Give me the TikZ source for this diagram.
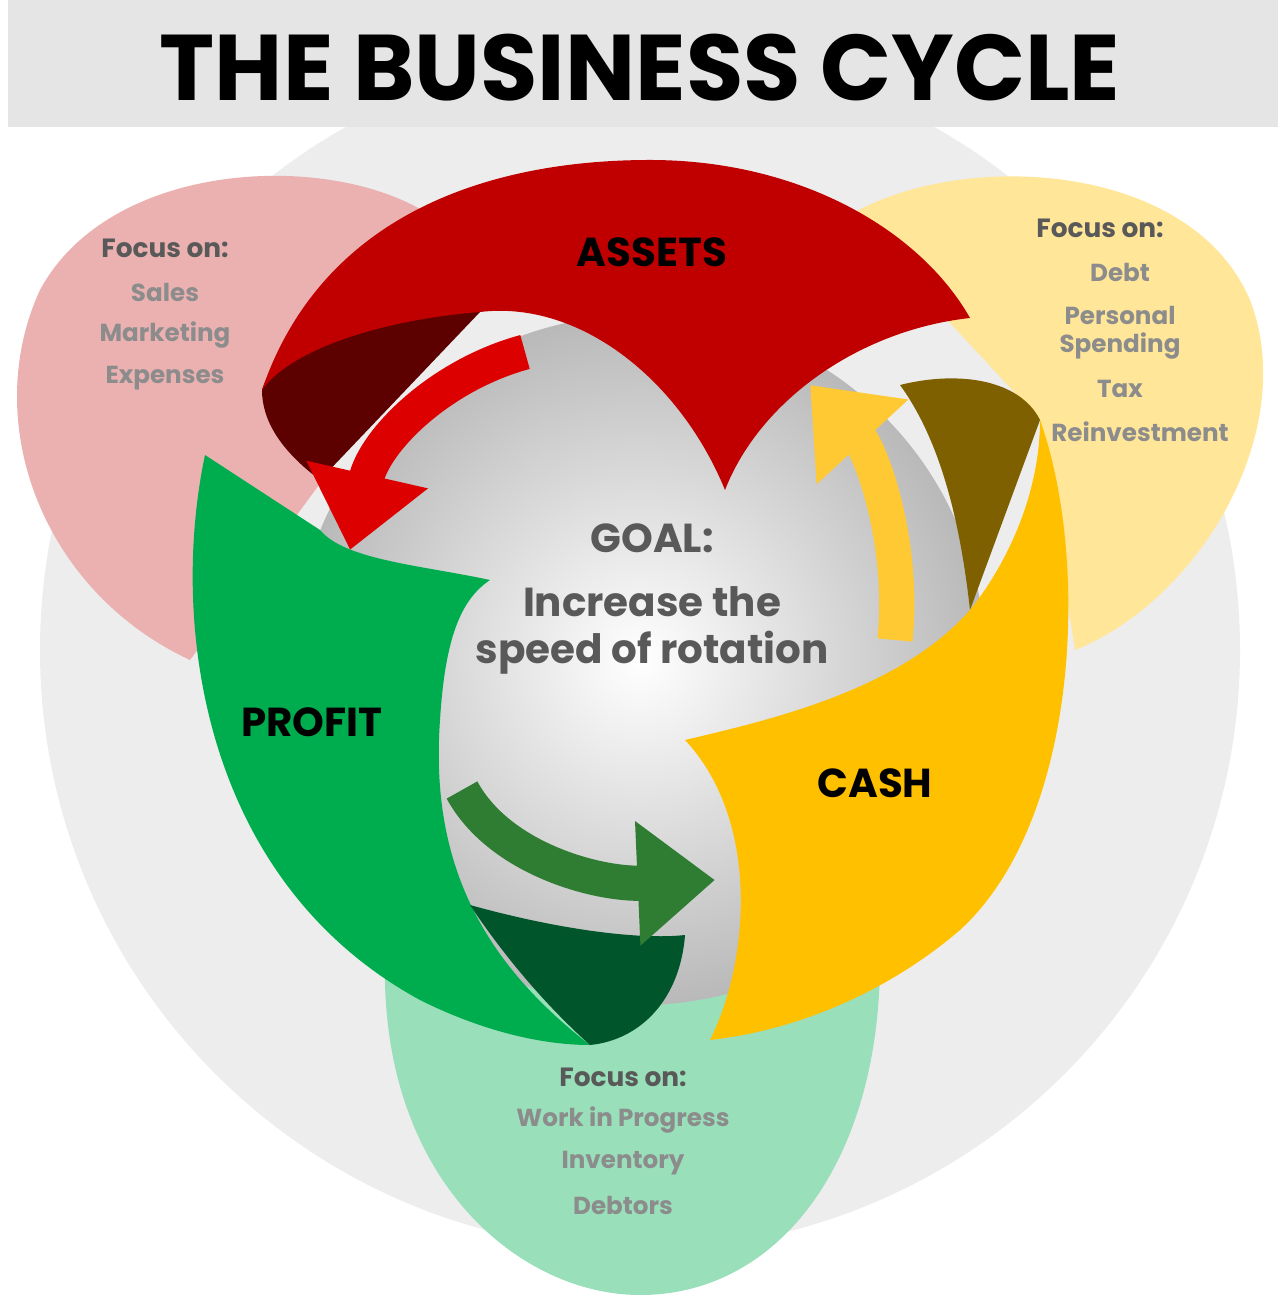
\documentclass[tikz,border=0pt]{standalone}
\usepackage{fontspec}
\setmainfont{Poppins}
\usetikzlibrary{arrows.meta}
\definecolor{bandred}{HTML}{C00000}
\definecolor{foldred}{HTML}{5C0000}
\definecolor{bandgreen}{HTML}{00AD4E}
\definecolor{foldgreen}{HTML}{00552A}
\definecolor{bandyellow}{HTML}{FFC000}
\definecolor{foldyellow}{HTML}{7F6000}
\definecolor{petalpink}{HTML}{EBB1B0}
\definecolor{petalyellow}{HTML}{FFE699}
\definecolor{petalgreen}{HTML}{99DFBA}
\definecolor{headtext}{HTML}{595959}
\definecolor{itemtext}{HTML}{8C8C8C}
\definecolor{turnred}{HTML}{DD0000}
\definecolor{turnyellow}{HTML}{FFC933}
\definecolor{turngreen}{HTML}{2E7D32}
\tikzset{
  focushead/.style={font=\fontsize{7.5}{9}\selectfont\bfseries, text=headtext},
  focusitem/.style={font=\fontsize{7}{9}\selectfont\bfseries, text=itemtext},
  bandlabel/.style={font=\fontsize{11.5}{13}\selectfont\bfseries, text=black},
  goaltext/.style={font=\fontsize{11.5}{14}\selectfont\bfseries, text=headtext},
  turn/.style={line width=10pt, -{Triangle[length=22pt, width=34pt]}}
}
\begin{document}
\begin{tikzpicture}[x=0.01cm,y=-0.01cm]
  \useasboundingbox (0,0) rectangle (1278,1295);
  % backdrop
  \fill[gray!14] (640,650) circle (600);
  \fill[gray!20] (8,0) rectangle (1278,127);
  \node (title) at (640,68) {\resizebox{9.6cm}{!}{\bfseries THE BUSINESS CYCLE}};

  % petals
  \fill[petalpink] (190,660) .. controls (40,590) and (-20,420) .. (40,290)
     .. controls (110,160) and (330,150) .. (430,215) -- (330,470) -- cycle;
  \fill[petalyellow] (850,215) .. controls (960,150) and (1190,160) .. (1250,300)
     .. controls (1300,430) and (1200,600) .. (1075,650) -- (1040,420) -- cycle;
  \fill[petalgreen] (385,960) .. controls (380,1180) and (520,1295) .. (640,1295)
     .. controls (780,1295) and (880,1160) .. (880,960) -- cycle;

  % sphere
  \shade[inner color=white, outer color=gray!55] (640,660) circle (345);

  % red band
  \fill[foldred] (262,390) .. controls (280,330) and (400,300) .. (480,312)
     -- (320,480) .. controls (280,450) and (262,420) .. cycle;
  \fill[bandred] (262,390) .. controls (320,220) and (480,160) .. (650,160)
     .. controls (800,160) and (920,230) .. (970,318)
     .. controls (860,330) and (760,400) .. (725,490)
     .. controls (680,380) and (580,300) .. (480,312)
     .. controls (380,320) and (290,350) .. cycle;
  % green band
  \fill[bandgreen] (205,455) .. controls (170,620) and (200,880) .. (420,1000)
     .. controls (480,1030) and (540,1045) .. (590,1045)
     .. controls (480,960) and (430,860) .. (440,720)
     .. controls (445,640) and (460,600) .. (490,580)
     .. controls (420,565) and (345,560) .. (320,530) -- cycle;
  \fill[foldgreen] (470,905) .. controls (560,930) and (640,940) .. (685,935)
     .. controls (680,1000) and (640,1040) .. (590,1045)
     .. controls (540,1000) and (500,950) .. cycle;
  % yellow band
  \fill[foldyellow] (900,385) .. controls (960,370) and (1020,380) .. (1040,420)
     -- (970,610) .. controls (960,520) and (940,440) .. cycle;
  \fill[bandyellow] (1040,420) .. controls (1090,560) and (1080,820) .. (960,930)
     .. controls (890,990) and (800,1030) .. (710,1040)
     .. controls (750,960) and (760,820) .. (685,740)
     .. controls (770,720) and (900,690) .. (970,610)
     .. controls (1010,560) and (1040,490) .. cycle;

  % inner arrows
  \draw[turn, draw=turnred, -{Triangle[length=22pt, width=34pt, fill=turnred]}]
     (525,352) .. controls (440,375) and (375,440) .. (350,550);
  \draw[turn, draw=turnyellow]
     (895,640) .. controls (905,540) and (870,450) .. (810,385);
  \draw[turn, draw=turngreen]
     (462,790) .. controls (500,860) and (600,885) .. (715,880);

  % band labels
  \node[bandlabel] (assets) at (652,252) {ASSETS};
  \node[bandlabel] (profit) at (312,722) {PROFIT};
  \node[bandlabel] (cash) at (875,783) {CASH};

  % goal
  \node[goaltext] (goal) at (652,538) {GOAL:};
  \node[goaltext] (goala) at (652,602) {Increase the};
  \node[goaltext] (goalb) at (652,653) {speed of rotation};

  % focus lists
  \node[focushead] (pinkhead) at (165,248) {Focus on:};
  \foreach \txt/\yy in {Sales/292, Marketing/335, Expenses/378}
    \node[focusitem] at (165,\yy) {\txt};
  \node[focushead] (yellowhead) at (1100,228) {Focus on:};
  \foreach \txt/\xx/\yy in {Debt/1120/272, Personal/1120/315, Spending/1120/346, Tax/1120/389, Reinvestment/1140/432}
    \node[focusitem] at (\xx,\yy) {\txt};
  \node[focushead] (greenhead) at (623,1077) {Focus on:};
  \foreach \txt/\yy in {Work in Progress/1120, Inventory/1163, Debtors/1205}
    \node[focusitem] at (623,\yy) {\txt};
\end{tikzpicture}
\end{document}
